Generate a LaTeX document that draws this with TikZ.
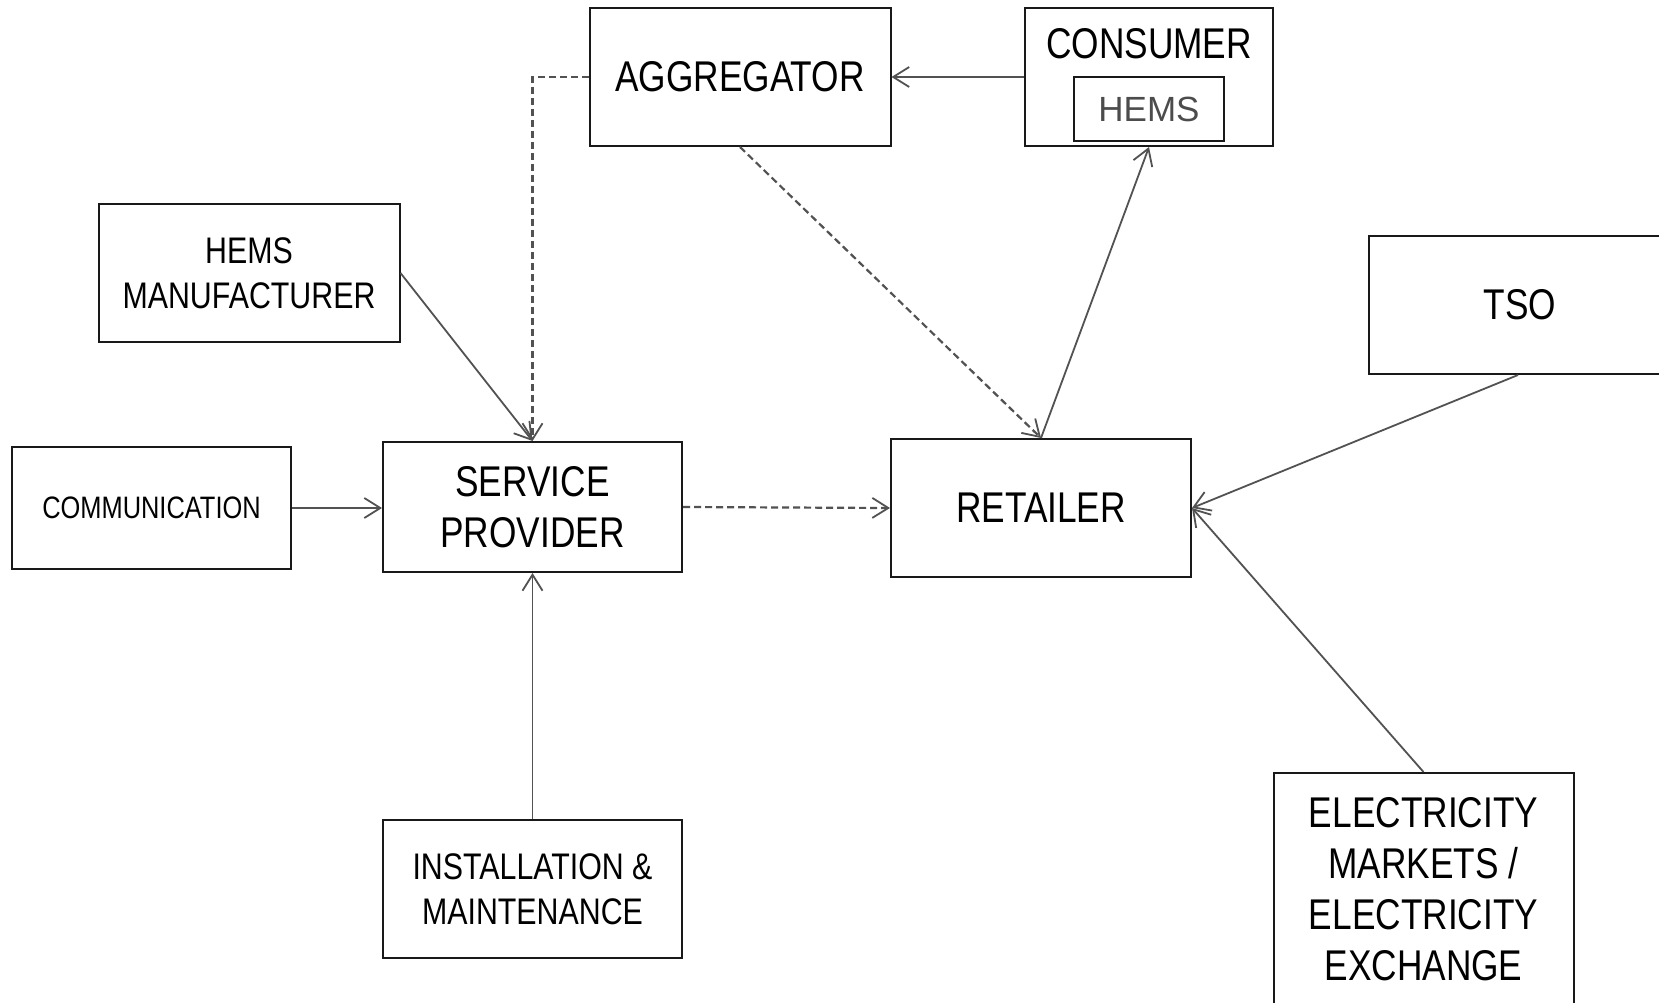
\documentclass[tikz,border=0pt]{standalone}
\usepackage{fontspec}
\setmainfont[FakeStretch=0.82]{Liberation Sans}
\newfontfamily\plainsans{Liberation Sans}
\usetikzlibrary{arrows.meta}
\tikzset{
  box/.style={draw=black!90, line width=2pt, inner sep=0pt, align=center},
  bigfont/.style={font=\fontsize{43}{51}\selectfont},
  midfont/.style={font=\fontsize{37}{45}\selectfont},
  smallfont/.style={font=\fontsize{31}{37}\selectfont},
  link/.style={draw=black!68, line width=1.8pt, -{Straight Barb[length=16pt,width=20pt,line width=1.8pt]}},
  dlink/.style={link, line width=2.2pt, dash pattern=on 7pt off 4pt},
}
\begin{document}
\begin{tikzpicture}[x=1pt,y=-1pt]
\useasboundingbox (0,0) rectangle (1659,1003);
\node[box, bigfont, minimum width=301pt, minimum height=138pt] (agg) at (740,77){AGGREGATOR};
\node[box, minimum width=248pt, minimum height=138pt] (cons) at (1149,77){};
\node[bigfont, inner sep=0pt] (conslbl) at (1149,44){CONSUMER};
\node[box, minimum width=150pt, minimum height=64pt, text=black!70, font=\plainsans\fontsize{35}{42}\selectfont] (hems) at (1149,109){HEMS};
\node[box, midfont, minimum width=301pt, minimum height=138pt] (mfr) at (249,273){HEMS\\MANUFACTURER};
\node[box, bigfont, minimum width=302pt, minimum height=138pt] (tso) at (1520,305){TSO};
\node[box, smallfont, minimum width=279pt, minimum height=122pt] (comm) at (151.5,508){COMMUNICATION};
\node[box, bigfont, minimum width=299pt, minimum height=130pt] (sp) at (532.5,507){SERVICE\\PROVIDER};
\node[box, bigfont, minimum width=300pt, minimum height=138pt] (ret) at (1041,508){RETAILER};
\node[box, midfont, minimum width=299pt, minimum height=138pt] (inst) at (532.5,889){INSTALLATION \&\\MAINTENANCE};
\node[box, bigfont, minimum width=300pt, minimum height=232pt] (mkt) at (1423.5,889){ELECTRICITY\\MARKETS /\\ELECTRICITY\\EXCHANGE};
\draw[link] (cons.west |- agg.east) -- (agg.east);
\draw[dlink] (agg.west) -| (sp.north);
\draw[link] (mfr.east) -- (sp.north);
\draw[link] (comm.east) -- (sp.west |- comm.east);
\draw[link] (inst.north) -- (sp.south);
\draw[dlink] (sp.east) -- (ret.west);
\draw[dlink] (agg.south) -- (ret.north);
\draw[link] (ret.north) -- (cons.south);
\draw[link] (tso.south) ++(-2,0) -- (ret.east);
\draw[link] (mkt.north) -- (ret.east);
\end{tikzpicture}
\end{document}
